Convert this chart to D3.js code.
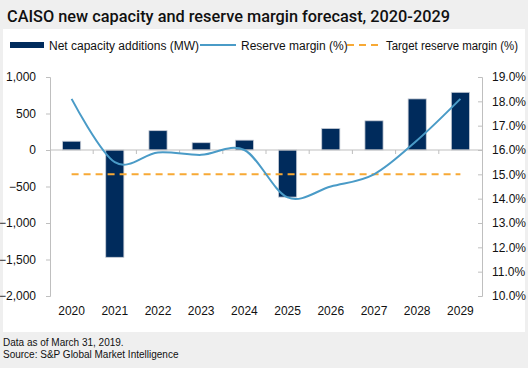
<!DOCTYPE html>
<html><head><meta charset="utf-8">
<script src="https://cdn.jsdelivr.net/npm/d3@7/dist/d3.min.js"></script>
<style>body{margin:0;background:#efefef;}svg{display:block;font-family:"Liberation Sans",Arial,sans-serif;}</style>
</head><body><svg id="c" width="528" height="368"></svg>
<script>
const years = ["2020","2021","2022","2023","2024","2025","2026","2027","2028","2029"];
const capacityMW = [120, -1470, 265, 100, 135, -645, 295, 400, 700, 790];
const reserveMargin = [18.1, 15.5, 15.9, 15.8, 16.0, 14.05, 14.5, 15.0, 16.4, 18.1];
const targetMargin = [15, 15, 15, 15, 15, 15, 15, 15, 15, 15];
const leftTicks = [1000, 500, 0, -500, -1000, -1500, -2000];
const rightTicks = [19, 18, 17, 16, 15, 14, 13, 12, 11, 10];

const svg = d3.select("#c");
svg.append("rect").attr("x",3).attr("y",29).attr("width",522).attr("height",303).attr("fill","#fff");
svg.append("text").attr("x",7).attr("y",22).attr("font-size",16.5).attr("font-family","Roboto,'Liberation Sans',sans-serif")
  .attr("font-weight",500).attr("textLength",443).attr("lengthAdjust","spacingAndGlyphs")
  .attr("fill","#111").text("CAISO new capacity and reserve margin forecast, 2020-2029");

const L=50, R=482, T=77, B=296;
const x = d3.scaleBand().domain(years).range([L,R]).paddingInner(0.58).paddingOuter(0.29);
const xb = d3.scaleBand().domain(years).range([L,R]);
const yL = d3.scaleLinear().domain([-2000,1000]).range([B,T]);
const yR = d3.scaleLinear().domain([10,19]).range([B,T]);
const axisCol="#bfbfbf";

const gl = svg.append("g").attr("transform",`translate(${L},0)`)
  .call(d3.axisLeft(yL).tickValues(leftTicks).tickSize(4).tickPadding(6).tickFormat(d3.format(",")));
const gr = svg.append("g").attr("transform",`translate(${R},0)`)
  .call(d3.axisRight(yR).tickValues(rightTicks).tickSize(-4).tickPadding(6).tickFormat(d=>d.toFixed(1)+"%"));
[gl,gr].forEach(g=>{g.select(".domain").attr("stroke",axisCol);g.selectAll(".tick line").attr("stroke",axisCol);
  g.selectAll("text").attr("font-size",12).attr("fill","#111");});
gl.selectAll("text").attr("dx",-4);
gr.selectAll("text").attr("dx",4);

svg.append("g").selectAll("rect").data(years).join("rect")
  .attr("x",d=>x(d)).attr("width",x.bandwidth())
  .attr("y",(d,i)=>yL(Math.max(0,capacityMW[i])))
  .attr("height",(d,i)=>Math.abs(yL(capacityMW[i])-yL(0)))
  .attr("fill","#002b5c").attr("stroke","#c8cdd6").attr("stroke-width",0.8);

const gx = svg.append("g").attr("transform",`translate(0,${yL(0)})`);
gx.append("line").attr("x1",L).attr("x2",R).attr("stroke",axisCol).attr("stroke-width",1.2);
gx.selectAll("line.t").data(years.slice(1)).join("line").attr("class","t")
  .attr("x1",d=>xb(d)).attr("x2",d=>xb(d)).attr("y1",0).attr("y2",4).attr("stroke",axisCol);
svg.append("g").selectAll("text").data(years).join("text")
  .attr("x",d=>xb(d)+xb.bandwidth()/2).attr("y",315).attr("text-anchor","middle")
  .attr("font-size",12).attr("fill","#111").text(d=>d);

svg.append("path").datum(targetMargin)
  .attr("d",d3.line().x((d,i)=>xb(years[i])+xb.bandwidth()/2).y(d=>yR(d)))
  .attr("fill","none").attr("stroke","#f7a935").attr("stroke-width",2).attr("stroke-dasharray","7,5");

svg.append("path").datum(reserveMargin)
  .attr("d",d3.line().x((d,i)=>xb(years[i])+xb.bandwidth()/2).y(d=>yR(d)).curve(d3.curveCardinal.tension(0)))
  .attr("fill","none").attr("stroke","#4a9bc7").attr("stroke-width",2);

const lg = svg.append("g").attr("font-size",12).attr("fill","#111");
lg.append("rect").attr("x",10).attr("y",42).attr("width",34).attr("height",6).attr("fill","#002b5c");
lg.append("text").attr("x",49).attr("y",50).text("Net capacity additions (MW)");
lg.append("line").attr("x1",200).attr("x2",236).attr("y1",45).attr("y2",45).attr("stroke","#4a9bc7").attr("stroke-width",2);
lg.append("text").attr("x",241).attr("y",50).text("Reserve margin (%)");
lg.append("line").attr("x1",347).attr("x2",380).attr("y1",45).attr("y2",45).attr("stroke","#f7a935").attr("stroke-width",2).attr("stroke-dasharray","7,5");
lg.append("text").attr("x",386).attr("y",50).attr("textLength",132).attr("lengthAdjust","spacingAndGlyphs").text("Target reserve margin (%)");

const ft = svg.append("g").attr("font-size",10).attr("fill","#111");
ft.append("text").attr("x",3).attr("y",346).text("Data as of March 31, 2019.");
ft.append("text").attr("x",3).attr("y",358).text("Source: S&P Global Market Intelligence");
</script></body></html>
